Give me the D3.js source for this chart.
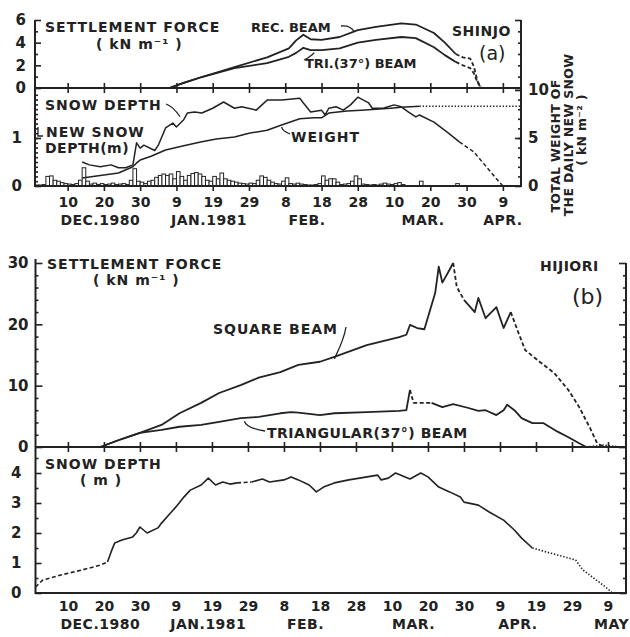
<!DOCTYPE html>
<html>
<head>
<meta charset="utf-8">
<title>Settlement force and snow depth - Shinjo / Hijiori</title>
<style>
  body { margin: 0; background: #fff; }
  svg { display: block; background: #fff; }
  text { font-family: "DejaVu Sans", sans-serif; fill: #222; }
  .lbl { font-weight: bold; font-size: 14px; letter-spacing: 1px; }
  .small { font-weight: bold; font-size: 13px; }
  .tick text { font-family: "DejaVu Sans", sans-serif; font-weight: bold; font-size: 15px; fill: #222; }
  .xlab .tick text { font-size: 14px; }
  .tick line { stroke: #222; stroke-width: 1.6; }
  .domain { display: none; }
  .frame { stroke: #222; stroke-width: 2; fill: none; }
  .lead { stroke: #222; stroke-width: 1.3; fill: none; }
</style>
</head>
<body>
<div id="chart"></div>
<script src="https://d3js.org/d3.v7.min.js"></script>
<script>
var parse = d3.timeParse("%Y-%m-%d");

// ---------- (a) SHINJO ----------
var recBeamA = [["1981-01-07",0],["1981-01-11",0.45],["1981-01-16",0.97],["1981-01-25",1.85],["1981-02-03",2.7],
  ["1981-02-09",3.5],["1981-02-11",4.2],["1981-02-13",4.7],["1981-02-15",4.3],["1981-02-18",4.25],["1981-02-23",4.5],
  ["1981-02-28",5.1],["1981-03-05",5.4],["1981-03-12",5.7],["1981-03-16",5.6],["1981-03-21",4.85],["1981-03-24",4.0],
  ["1981-03-27",3.0],["1981-03-29",2.7],["1981-03-31",2.6],["1981-04-01",1.9],["1981-04-02",0.6],["1981-04-03",0]];
var triBeamA = [["1981-01-07",0],["1981-01-11",0.45],["1981-01-16",0.97],["1981-01-25",1.75],["1981-02-03",2.2],
  ["1981-02-09",2.75],["1981-02-11",3.1],["1981-02-13",3.55],["1981-02-15",3.35],["1981-02-18",3.35],["1981-02-23",3.5],
  ["1981-02-28",4.0],["1981-03-05",4.25],["1981-03-12",4.5],["1981-03-16",4.4],["1981-03-21",3.6],["1981-03-24",2.9],
  ["1981-03-27",2.3],["1981-03-29",2.0],["1981-03-31",1.75],["1981-04-01",1.3],["1981-04-02",0.5],["1981-04-03",0]];
var snowDepthA = [["1980-12-14",0.5],["1980-12-16",0.44],["1980-12-19",0.4],["1980-12-22",0.44],["1980-12-24",0.38],
  ["1980-12-26",0.38],["1980-12-28",0.44],["1980-12-29",0.9],["1980-12-30",0.79],["1980-12-31",0.85],["1981-01-03",0.74],
  ["1981-01-04",0.85],["1981-01-06",1.21],["1981-01-08",1.31],["1981-01-09",1.23],["1981-01-11",1.38],["1981-01-12",1.52],
  ["1981-01-14",1.54],["1981-01-16",1.52],["1981-01-19",1.62],["1981-01-22",1.75],["1981-01-25",1.62],["1981-01-27",1.65],
  ["1981-01-31",1.58],["1981-02-03",1.79],["1981-02-07",1.79],["1981-02-12",1.83],["1981-02-13",1.73],["1981-02-15",1.54],
  ["1981-02-18",1.58],["1981-02-19",1.48],["1981-02-20",1.62],["1981-02-22",1.65],["1981-02-24",1.58],["1981-02-26",1.69],
  ["1981-02-28",1.85],["1981-03-03",1.73],["1981-03-04",1.62],["1981-03-07",1.62],["1981-03-10",1.69],["1981-03-12",1.65],
  ["1981-03-14",1.54],["1981-03-16",1.44],["1981-03-17",1.48],["1981-03-21",1.33],["1981-03-25",1.1],["1981-03-28",0.92],
  ["1981-04-01",0.71],["1981-04-04",0.44],["1981-04-07",0.17],["1981-04-09",0]];
var weightA = [["1980-12-14",0.83],["1980-12-24",1.35],["1980-12-28",2.0],["1980-12-29",2.4],["1980-12-30",2.7],
  ["1981-01-02",3.1],["1981-01-06",3.75],["1981-01-11",4.2],["1981-01-16",4.6],["1981-01-20",4.9],["1981-01-25",5.1],
  ["1981-01-29",5.5],["1981-02-03",5.8],["1981-02-07",6.35],["1981-02-12",7.0],["1981-02-16",7.1],["1981-02-18",7.1],
  ["1981-02-20",7.6],["1981-02-25",7.8],["1981-03-01",7.9],["1981-03-09",8.1],["1981-03-12",8.2],["1981-03-17",8.3],
  ["1981-04-14",8.3]];
// daily new snow depth (m), one value per day from 1 Dec 1980
var newSnowStart = "1980-12-01";
var newSnowA = [0.02,0.02,0.03,0.2,0.21,0.12,0.1,0.07,0.05,0.04,
  0.03,0.05,0.12,0.38,0.1,0.04,0.06,0.03,0.05,0.03,
  0.04,0.06,0.03,0.04,0.05,0.03,0.12,0.36,0.1,0.08,
  0.05,0.1,0.12,0.18,0.22,0.25,0.22,0.25,0.15,0.3,
  0.2,0.12,0.22,0.26,0.28,0.25,0.2,0.12,0.1,0.2,
  0.15,0.27,0.15,0.12,0.1,0.08,0.06,0.05,0.04,0.06,
  0.05,0.12,0.21,0.18,0.12,0.08,0.05,0.04,0.1,0.17,
  0.05,0.04,0.06,0.04,0.03,0.02,0.02,0.03,0.05,0.21,
  0.12,0.15,0.15,0.08,0.03,0.04,0.05,0.1,0.21,0.15,
  0.04,0.03,0.02,0.03,0.02,0.04,0.06,0.04,0.03,0.05,
  0.07,0.03,0,0,0,0,0.1,0,0,0,
  0,0,0,0,0,0,0.05];

// ---------- (b) HIJIORI ----------
var squareBeamB = [["1980-12-19",0],["1980-12-24",1.1],["1980-12-30",2.3],["1981-01-05",3.6],["1981-01-10",5.5],
  ["1981-01-16",7.2],["1981-01-21",8.8],["1981-01-27",10.1],["1981-02-01",11.3],["1981-02-07",12.2],["1981-02-12",13.4],
  ["1981-02-18",13.9],["1981-02-22",14.7],["1981-03-03",16.6],["1981-03-12",17.9],["1981-03-14",18.3],["1981-03-15",19.9],
  ["1981-03-17",19.4],["1981-03-19",19.2],["1981-03-22",25.1],["1981-03-23",29.4],["1981-03-24",26.8],["1981-03-26",28.9],
  ["1981-03-27",30.0],["1981-03-28",26.1],["1981-03-30",24.0],["1981-04-02",22.0],["1981-04-03",24.3],["1981-04-05",21.0],
  ["1981-04-08",22.8],["1981-04-10",19.4],["1981-04-12",22.0],["1981-04-14",18.8],["1981-04-16",15.8],["1981-04-20",13.9],
  ["1981-04-24",12.1],["1981-04-28",9.3],["1981-05-01",6.5],["1981-05-04",3.1],["1981-05-06",0.6],["1981-05-08",0]];
var triBeamB = [["1980-12-19",0],["1980-12-24",1.1],["1980-12-30",2.3],["1981-01-05",2.8],["1981-01-10",3.3],
  ["1981-01-16",3.6],["1981-01-21",4.1],["1981-01-27",4.7],["1981-02-01",4.9],["1981-02-07",5.5],["1981-02-10",5.7],
  ["1981-02-12",5.6],["1981-02-18",5.2],["1981-02-22",5.5],["1981-03-03",5.7],["1981-03-12",5.9],["1981-03-14",6.0],
  ["1981-03-15",9.3],["1981-03-16",7.2],["1981-03-21",7.2],["1981-03-24",6.5],["1981-03-27",7.0],["1981-03-31",6.4],
  ["1981-04-03",5.9],["1981-04-05",6.0],["1981-04-08",5.2],["1981-04-10",6.0],["1981-04-11",6.9],["1981-04-13",6.0],
  ["1981-04-15",4.7],["1981-04-18",3.9],["1981-04-21",3.9],["1981-04-25",2.5],["1981-04-28",1.6],["1981-05-01",0.6],
  ["1981-05-03",0],["1981-05-08",0.3],["1981-05-12",0]];
var snowDepthB = [["1980-12-01",0.2],["1980-12-03",0.43],["1980-12-08",0.6],["1980-12-14",0.77],["1980-12-19",0.93],
  ["1980-12-21",1.03],["1980-12-22",1.37],["1980-12-23",1.67],["1980-12-25",1.77],["1980-12-28",1.87],["1980-12-29",2.0],
  ["1980-12-30",2.2],["1981-01-01",2.0],["1981-01-04",2.17],["1981-01-05",2.33],["1981-01-07",2.6],["1981-01-09",2.87],
  ["1981-01-11",3.17],["1981-01-13",3.43],["1981-01-16",3.6],["1981-01-18",3.83],["1981-01-20",3.6],["1981-01-22",3.7],
  ["1981-01-24",3.63],["1981-01-26",3.67],["1981-01-30",3.7],["1981-02-02",3.8],["1981-02-04",3.7],["1981-02-08",3.77],
  ["1981-02-10",3.87],["1981-02-12",3.77],["1981-02-15",3.6],["1981-02-17",3.37],["1981-02-19",3.53],["1981-02-22",3.67],
  ["1981-02-26",3.77],["1981-03-01",3.83],["1981-03-06",3.93],["1981-03-07",3.77],["1981-03-09",3.83],["1981-03-11",4.0],
  ["1981-03-15",3.8],["1981-03-18",4.0],["1981-03-20",3.87],["1981-03-23",3.53],["1981-03-26",3.37],["1981-03-29",3.2],
  ["1981-03-30",3.03],["1981-04-03",2.93],["1981-04-06",2.7],["1981-04-10",2.43],["1981-04-13",2.1],["1981-04-15",1.83],
  ["1981-04-18",1.5],["1981-04-23",1.33],["1981-04-27",1.2],["1981-04-30",1.1],["1981-05-02",0.77],["1981-05-05",0.5],
  ["1981-05-08",0.23],["1981-05-10",0.03]];

// estimated (broken-line) stretches
var dashRecA = [["1981-03-27","1981-04-14"]], dashTriA = [["1981-03-27","1981-04-14"]];
var dashSnowA = [["1981-03-30","1981-04-14"]], dotWeightA = [["1981-03-17","1981-04-14"]];
var dashSquareB = [["1981-03-27","1981-03-30"],["1981-04-13","1981-05-15"]];
var dashTriB = [["1981-03-15","1981-03-21"]], dotTriB = [["1981-05-03","1981-05-15"]];
var dashSnowB = [["1980-12-01","1980-12-21"],["1981-01-26","1981-01-30"]], dotSnowB = [["1981-04-20","1981-05-15"]];

// axis ticks
var tickDates = ["1980-12-10","1980-12-20","1980-12-30","1981-01-09","1981-01-19","1981-01-29","1981-02-08",
  "1981-02-18","1981-02-28","1981-03-10","1981-03-20","1981-03-30","1981-04-09","1981-04-19","1981-04-29","1981-05-09"];
var tickLabels = ["10","20","30","9","19","29","8","18","28","10","20","30","9","19","29","9"];
var monthsA = [["DEC.1980","1980-12-19"],["JAN.1981","1981-01-18"],["FEB.","1981-02-14"],["MAR.","1981-03-18"],["APR.","1981-04-09"]];
var monthsB = [["DEC.1980","1980-12-19"],["JAN.1981","1981-01-18"],["FEB.","1981-02-14"],["MAR.","1981-03-16"],["APR.","1981-04-14"],["MAY","1981-05-10"]];

var svg = d3.select("#chart").append("svg").attr("width", 630).attr("height", 637);

// ---------- scales ----------
var xA = d3.scaleTime().domain([parse("1980-12-01"), parse("1981-04-14")]).range([35, 521]);
var yTopA = d3.scaleLinear().domain([0, 6]).range([88, 20]);
var yDepthA = d3.scaleLinear().domain([0, 2]).range([186, 90]);
var yWeightA = d3.scaleLinear().domain([0, 10]).range([186, 90]);

var xB = d3.scaleTime().domain([parse("1980-12-01"), parse("1981-05-14")]).range([35.5, 626]);
var yForceB = d3.scaleLinear().domain([0, 30]).range([447, 263]);
var yDepthB = d3.scaleLinear().domain([0, 4]).range([593, 473]);

function inRanges(ranges, t) {
  return ranges.some(function(r) { return t >= parse(r[0]) && t <= parse(r[1]); });
}

function drawSeries(x, y, pts, dashed, dotted, sw) {
  var data = pts.map(function(p) { return {date: parse(p[0]), v: p[1]}; });
  var runs = [], cur = null;
  for (var i = 0; i < data.length - 1; i++) {
    var mid = new Date((data[i].date.getTime() + data[i + 1].date.getTime()) / 2);
    var kind = inRanges(dotted, mid) ? "dot" : inRanges(dashed, mid) ? "dash" : "solid";
    if (!cur || cur.kind !== kind) { cur = {kind: kind, pts: [data[i]]}; runs.push(cur); }
    cur.pts.push(data[i + 1]);
  }
  var line = d3.line().x(function(d) { return x(d.date); }).y(function(d) { return y(d.v); });
  svg.append("g").selectAll("path").data(runs).enter().append("path")
    .attr("d", function(r) { return line(r.pts); })
    .attr("fill", "none").attr("stroke", "#222").attr("stroke-width", sw)
    .attr("stroke-linejoin", "round")
    .attr("stroke-dasharray", function(r) { return r.kind === "dash" ? "4,2.5" : r.kind === "dot" ? "1.4,1.8" : null; });
}

function yAxis(scale, xpos, side, major, minor, pad, len) {
  var mk = side === "left" ? d3.axisLeft : d3.axisRight;
  svg.append("g").attr("transform", "translate(" + xpos + ",0)")
    .call(mk(scale).tickValues(minor).tickSize(-3).tickFormat(""));
  var g = svg.append("g").attr("transform", "translate(" + xpos + ",0)")
    .call(mk(scale).tickValues(major).tickSize(-len).tickPadding(pad).tickFormat(d3.format("d")));
  if (pad === null) g.selectAll("text").remove();
}

function xTicks(x, ypos, dir, n, labelled) {
  var ax = (dir === "up" ? d3.axisBottom(x).tickSize(-5) : d3.axisBottom(x).tickSize(dir === "down" ? 5 : 0))
    .tickValues(tickDates.slice(0, n).map(parse));
  if (labelled) ax.tickPadding(dir === "none" ? 8 : 6).tickFormat(function(d, i) { return tickLabels[i]; });
  else ax.tickFormat("");
  svg.append("g").attr("class", "xlab").attr("transform", "translate(0," + ypos + ")").call(ax);
}
function xTicksDown(x, ypos, n) {
  svg.append("g").attr("transform", "translate(0," + ypos + ")")
    .call(d3.axisTop(x).tickValues(tickDates.slice(0, n).map(parse)).tickSize(-5).tickFormat(""));
}

// ---------- panel (a) ----------
// daily new snow bars
var day0 = parse(newSnowStart);
var bars = newSnowA.map(function(v, i) { return {day: d3.timeDay.offset(day0, i), v: v}; })
  .filter(function(d) { return d.v > 0; });
svg.append("g").selectAll("rect").data(bars).enter().append("rect")
  .attr("x", function(d) { return xA(d.day); })
  .attr("width", function(d) { return xA(d3.timeDay.offset(d.day, 1)) - xA(d.day); })
  .attr("y", function(d) { return yDepthA(d.v); })
  .attr("height", function(d) { return yDepthA(0) - yDepthA(d.v); })
  .attr("fill", "#fff").attr("stroke", "#222").attr("stroke-width", 1);

drawSeries(xA, yTopA, recBeamA, dashRecA, [], 1.8);
drawSeries(xA, yTopA, triBeamA, dashTriA, [], 1.8);
drawSeries(xA, yDepthA, snowDepthA, dashSnowA, [], 1.5);
drawSeries(xA, yWeightA, weightA, [], dotWeightA, 1.5);

// frame (a)
var xa0 = xA.range()[0], xa1 = xA.range()[1];
svg.append("path").attr("class", "frame")
  .attr("d", "M" + xa0 + "," + yTopA(6) + "V" + yDepthA(0) + "H" + xa1 + "V" + yTopA(6));
svg.append("line").attr("class", "frame").attr("x1", xa0).attr("x2", xa1).attr("y1", yTopA(0)).attr("y2", yTopA(0));

yAxis(yTopA, xa0, "left", [0, 2, 4, 6], [1, 3, 5], 9, 6);
yAxis(yTopA, xa1, "right", [0, 6], [1, 2, 3, 4, 5], null, 6);
yAxis(yDepthA, xa0, "left", [0, 1], d3.range(1, 20).map(function(i) { return i / 10; }), 13, 6);
yAxis(yWeightA, xa1, "right", [0, 5, 10], d3.range(1, 10), 7, 6);

xTicks(xA, yTopA(0), "up", 13, false);
xTicksDown(xA, yTopA(0), 13);
xTicks(xA, yDepthA(0), "down", 13, true);

svg.append("g").selectAll("text").data(monthsA).enter().append("text").attr("class", "lbl")
  .attr("x", function(d) { return xA(parse(d[1])); }).attr("y", 225).attr("text-anchor", "middle")
  .style("letter-spacing", "0.5px").text(function(d) { return d[0]; });

// texts (a)
function label(x, y, txt, cls, extra) {
  var t = svg.append("text").attr("x", x).attr("y", y).attr("class", cls || "lbl").text(txt);
  if (extra) extra(t);
  return t;
}
label(45, 32, "SETTLEMENT FORCE");
label(96, 49, "( kN m\u207B\u00B9 )");
label(251, 32, "REC. BEAM", "small");
label(305, 68, "TRI.(37\u00B0) BEAM", "small");
label(452, 36, "SHINJO", "lbl", function(t) { t.style("letter-spacing", "0.5px"); });
label(479, 60, "(a)", null, function(t) { t.attr("class", null).style("font-size", "19px"); });
label(45, 110, "SNOW DEPTH");
label(46, 137, "NEW SNOW");
label(45, 153, "DEPTH(m)", "lbl", function(t) { t.style("letter-spacing", "0.5px"); });
label(291, 142, "WEIGHT");

// right axis title (a)
[["TOTAL WEIGHT OF", 560, 146], ["THE DAILY NEW SNOW", 573, 135], ["( kN m\u207B\u00B2 )", 586, 130]].forEach(function(r) {
  svg.append("text").attr("transform", "translate(" + r[1] + "," + r[2] + ") rotate(-90)")
    .attr("text-anchor", "middle").style("font-weight", "bold").style("font-size", "12.5px")
    .style("letter-spacing", "0.3px").text(r[0]);
});

// leaders (a)
function leader(x0, y0, x1, y1, bend) {
  var mx = (x0 + x1) / 2 + bend[0], my = (y0 + y1) / 2 + bend[1];
  svg.append("path").attr("class", "lead").attr("d", "M" + x0 + "," + y0 + "Q" + mx + "," + my + " " + x1 + "," + y1);
}
leader(341, 26, xA(parse("1981-02-27")), yTopA(4.9) - 1, [2, -4]);
leader(304, 60, xA(parse("1981-02-16")), yTopA(3.3) + 2, [2, 0]);
leader(166, 104, xA(parse("1981-01-10")), yDepthA(1.38) - 3, [0, -4]);
leader(290, 134, xA(parse("1981-02-07")), yWeightA(6.35) + 2, [-4, 0]);
svg.append("path").attr("class", "lead").attr("d", "M38,127V136H43");

// ---------- panel (b) ----------
drawSeries(xB, yForceB, squareBeamB, dashSquareB, [], 1.8);
drawSeries(xB, yForceB, triBeamB, dashTriB, dotTriB, 1.8);
drawSeries(xB, yDepthB, snowDepthB, dashSnowB, dotSnowB, 1.6);

var xb0 = xB.range()[0], xb1 = xB.range()[1];
svg.append("path").attr("class", "frame")
  .attr("d", "M" + xb0 + "," + (yForceB(30) - 4) + "V" + yDepthB(0) + "H" + xb1 + "V" + yForceB(30));
svg.append("line").attr("class", "frame").attr("x1", xb0).attr("x2", xb1).attr("y1", yForceB(0)).attr("y2", yForceB(0));

yAxis(yForceB, xb0, "left", [0, 10, 20, 30], [2, 4, 6, 8, 12, 14, 16, 18, 22, 24, 26, 28], 7, 7);
yAxis(yForceB, xb1, "right", [0, 10, 20, 30], [2, 4, 6, 8, 12, 14, 16, 18, 22, 24, 26, 28], null, 7);
yAxis(yDepthB, xb0, "left", [0, 1, 2, 3, 4], [0.5, 1.5, 2.5, 3.5, 4.5], 14, 6);
yAxis(yDepthB, xb1, "right", [0, 1, 2, 3, 4], [0.5, 1.5, 2.5, 3.5, 4.5], null, 6);

xTicks(xB, yForceB(0), "up", 16, false);
xTicksDown(xB, yForceB(0), 16);
xTicks(xB, yDepthB(0), "none", 16, true);

svg.append("g").selectAll("text").data(monthsB).enter().append("text").attr("class", "lbl")
  .attr("x", function(d) { return xB(parse(d[1])); }).attr("y", 629).attr("text-anchor", "middle")
  .style("letter-spacing", "0.5px").text(function(d) { return d[0]; });

label(47, 269, "SETTLEMENT FORCE");
label(93, 285, "( kN m\u207B\u00B9 )");
label(213, 334, "SQUARE BEAM");
label(267, 438, "TRIANGULAR(37\u00B0) BEAM", "lbl", function(t) { t.style("letter-spacing", "0.5px"); });
label(540, 271, "HIJIORI", "lbl", function(t) { t.style("letter-spacing", "0.5px"); });
label(572, 304, "(b)", null, function(t) { t.attr("class", null).style("font-size", "22px"); });
label(45, 469, "SNOW DEPTH");
label(80, 485, "( m )");

leader(346, 327, xB(parse("1981-02-22")), yForceB(14.7) + 2, [4, -4]);
leader(265, 431, xB(parse("1981-01-28")), yForceB(4.7) + 3, [-8, 2]);
</script>
</body>
</html>
